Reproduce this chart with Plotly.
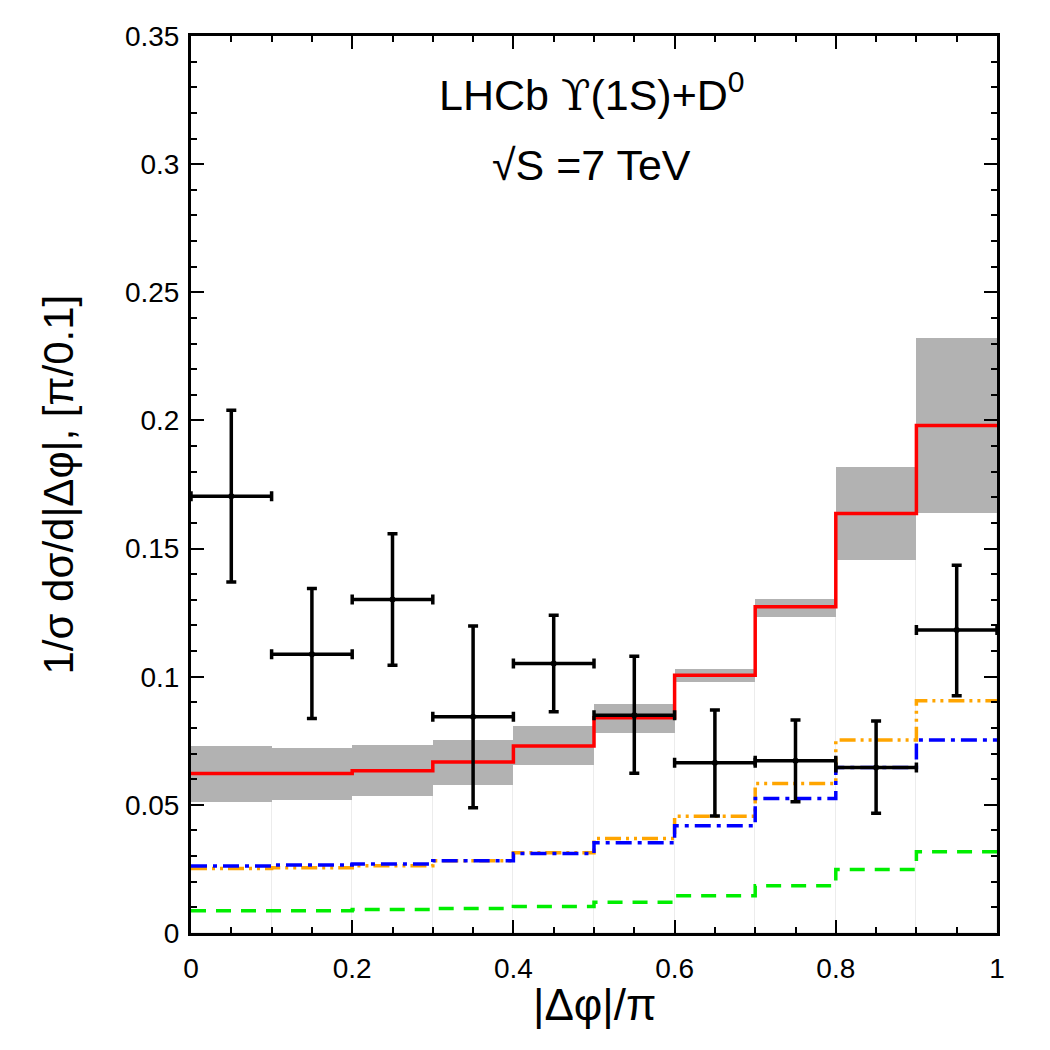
import plotly.graph_objects as go

# ---------------- data ----------------
bin_edges = [0.0, 0.1, 0.2, 0.3, 0.4, 0.5, 0.6, 0.7, 0.8, 0.9, 1.0]
bin_centers = [0.05, 0.15, 0.25, 0.35, 0.45, 0.55, 0.65, 0.75, 0.85, 0.95]

band_low = [0.051, 0.052, 0.0534, 0.0578, 0.0654, 0.0781, 0.098, 0.1234, 0.1455, 0.1639]
band_high = [0.073, 0.0722, 0.0733, 0.0753, 0.0807, 0.0892, 0.1032, 0.1305, 0.1819, 0.2322]

red_total = [0.0622, 0.0622, 0.0633, 0.0667, 0.073, 0.084, 0.1006, 0.1273, 0.1637, 0.198]
orange_curve = [0.0252, 0.0255, 0.0262, 0.0282, 0.0313, 0.0369, 0.0456, 0.0583, 0.0753, 0.0906]
blue_curve = [0.0261, 0.0265, 0.0269, 0.0282, 0.031, 0.0352, 0.0418, 0.0525, 0.0646, 0.0753]
green_curve = [0.0087, 0.0087, 0.0092, 0.0096, 0.0103, 0.012, 0.0145, 0.0184, 0.0248, 0.0317]

data_val = [0.1704, 0.1088, 0.1301, 0.0844, 0.1052, 0.085, 0.0664, 0.0672, 0.0646, 0.1182]
data_up = [0.204, 0.1344, 0.1558, 0.1198, 0.124, 0.108, 0.087, 0.0831, 0.0827, 0.1435]
data_down = [0.137, 0.0837, 0.1045, 0.0489, 0.0863, 0.0623, 0.0457, 0.0512, 0.0467, 0.0926]
bin_half_width = [0.05] * 10

x_tickvals = [0, 0.2, 0.4, 0.6, 0.8, 1.0]
x_ticktext = ["0", "0.2", "0.4", "0.6", "0.8", "1"]
y_tickvals = [0, 0.05, 0.1, 0.15, 0.2, 0.25, 0.3, 0.35]
y_ticktext = ["0", "0.05", "0.1", "0.15", "0.2", "0.25", "0.3", "0.35"]

FONT = "Liberation Sans, Arial, Helvetica, sans-serif"

fig = go.Figure()

# faint white under-bars (bin separators)
fig.add_trace(go.Bar(
    x=bin_centers, y=band_low, width=0.1,
    marker=dict(color="white", line=dict(color="#ececec", width=1)),
    hoverinfo="skip", showlegend=False,
))
# gray uncertainty band
fig.add_trace(go.Bar(
    x=bin_centers, y=[h - l for h, l in zip(band_high, band_low)], base=band_low,
    width=0.1, marker=dict(color="#b2b2b2", line=dict(width=0)),
    hoverinfo="skip", showlegend=False,
))


def step(vals):
    return vals + [vals[-1]]


fig.add_trace(go.Scatter(
    x=bin_edges, y=step(green_curve), mode="lines", line_shape="hv",
    line=dict(color="#00ee00", width=3.5, dash="15px,10px"), showlegend=False,
))
fig.add_trace(go.Scatter(
    x=bin_edges, y=step(orange_curve), mode="lines", line_shape="hv",
    line=dict(color="#ffa500", width=3.5, dash="16px,5px,3px,5px,3px,5px"), showlegend=False,
))
fig.add_trace(go.Scatter(
    x=bin_edges, y=step(blue_curve), mode="lines", line_shape="hv",
    line=dict(color="#0000ff", width=3.5, dash="16px,6px,4px,6px"), showlegend=False,
))
fig.add_trace(go.Scatter(
    x=bin_edges, y=step(red_total), mode="lines", line_shape="hv",
    line=dict(color="#ff0000", width=3.5), showlegend=False,
))

fig.add_trace(go.Scatter(
    x=bin_centers, y=data_val, mode="markers",
    marker=dict(color="black", size=6),
    error_y=dict(type="data", symmetric=False,
                 array=[u - v for u, v in zip(data_up, data_val)],
                 arrayminus=[v - d for v, d in zip(data_val, data_down)],
                 color="black", thickness=3.5, width=5),
    error_x=dict(type="data", array=bin_half_width, color="black", thickness=3.5, width=5),
    showlegend=False,
))

axis_common = dict(
    showline=True, linewidth=3, linecolor="black", mirror="allticks",
    ticks="inside", ticklen=13, tickwidth=1.5, tickcolor="black",
    showgrid=False, zeroline=False,
    tickfont=dict(family=FONT, size=28, color="black"),
)

fig.update_xaxes(
    range=[0, 1], tickvals=x_tickvals, ticktext=x_ticktext,
    minor=dict(dtick=0.05, ticks="inside", ticklen=6, tickwidth=1.5, tickcolor="black", showgrid=False),
    ticklabelstandoff=8,
    **axis_common,
)
fig.update_yaxes(
    range=[0, 0.35], tickvals=y_tickvals, ticktext=y_ticktext,
    minor=dict(dtick=0.01, ticks="inside", ticklen=6, tickwidth=1.5, tickcolor="black", showgrid=False),
    ticklabelstandoff=3,
    **axis_common,
)

fig.add_annotation(
    text="1/σ dσ/d|Δφ|, [π/0.1]", textangle=-90,
    xref="paper", yref="paper", x=-0.165, y=0.5, xanchor="center", yanchor="middle",
    showarrow=False, font=dict(family=FONT, size=42, color="black"),
)
fig.add_annotation(
    text="|Δφ|/π",
    xref="paper", yref="paper", x=0.5, y=-0.08, xanchor="center", yanchor="middle",
    showarrow=False, font=dict(family=FONT, size=44, color="black"),
)
fig.add_annotation(
    text="LHCb <span style='font-family:DejaVu Serif'>ϒ</span>(1S)+D<sup>0</sup>",
    xref="paper", yref="paper", x=0.497, y=(933 - 92) / 897, xanchor="center", yanchor="middle",
    showarrow=False, font=dict(family=FONT, size=43, color="black"),
)
fig.add_annotation(
    text="√S =7 TeV",
    xref="paper", yref="paper", x=0.497, y=(933 - 165) / 897, xanchor="center", yanchor="middle",
    showarrow=False, font=dict(family=FONT, size=43, color="black"),
)

fig.update_layout(
    width=1050, height=1050,
    margin=dict(l=191, r=53, t=36, b=117),
    paper_bgcolor="white", plot_bgcolor="white",
    barmode="overlay", bargap=0,
    showlegend=False,
)

fig.write_html("out.html")
